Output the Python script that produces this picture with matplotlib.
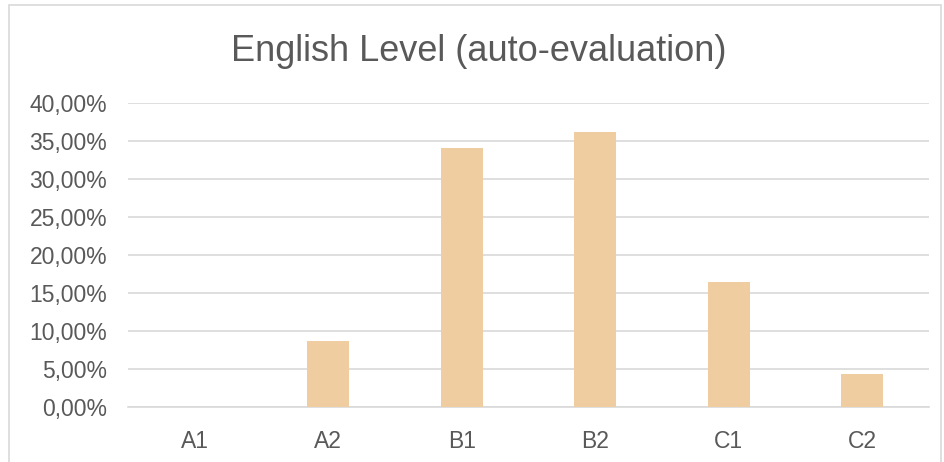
import matplotlib.pyplot as plt
from matplotlib.ticker import FuncFormatter
from matplotlib.patches import Rectangle

# ---- data
levels = ["A1", "A2", "B1", "B2", "C1", "C2"]
shares = [0.0, 8.7, 34.05, 36.2, 16.45, 4.35]
yticks = [0, 5, 10, 15, 20, 25, 30, 35, 40]

textColor = "#595959"
gridColor = "#d9d9d9"
barColor = "#f0cda0"

plt.rcParams['font.family'] = ['Liberation Sans', 'DejaVu Sans']

fig = plt.figure(figsize=(9.45, 4.62), dpi=100)
ax = fig.add_axes([0.1354, 0.1184, 0.983 - 0.1354, 0.777 - 0.1184])

positions = list(range(len(levels)))
ax.bar(positions, shares, width=0.315, color=barColor, zorder=3)

ax.set_xlim(-0.5, len(levels) - 0.5)
ax.set_ylim(0, 40)
ax.set_yticks(yticks)
ax.yaxis.set_major_formatter(FuncFormatter(lambda v, p: ("%.2f%%" % v).replace(".", ",")))
ax.set_xticks(positions)
ax.set_xticklabels(levels)

ax.grid(axis='y', color=gridColor, linewidth=1.2, zorder=0)
for side in ['top', 'right', 'left']:
        ax.spines[side].set_visible(False)
ax.spines['bottom'].set_color(gridColor)
ax.spines['bottom'].set_linewidth(1.2)
ax.tick_params(axis='both', length=0, labelsize=16.5, labelcolor=textColor)
ax.tick_params(axis='y', pad=15)
ax.tick_params(axis='x', pad=16)

fig.text(0.507, 0.888, "English Level (auto-evaluation)", ha='center', va='center',
         fontsize=26, color=textColor)

# ---- chart border
fig.patches.append(Rectangle((9 / 945, -0.05), 932 / 945, 1 - 5 / 462 + 0.05,
                             transform=fig.transFigure, fill=False,
                             edgecolor=gridColor, linewidth=1.2))

fig.savefig("out.png", dpi=100)
